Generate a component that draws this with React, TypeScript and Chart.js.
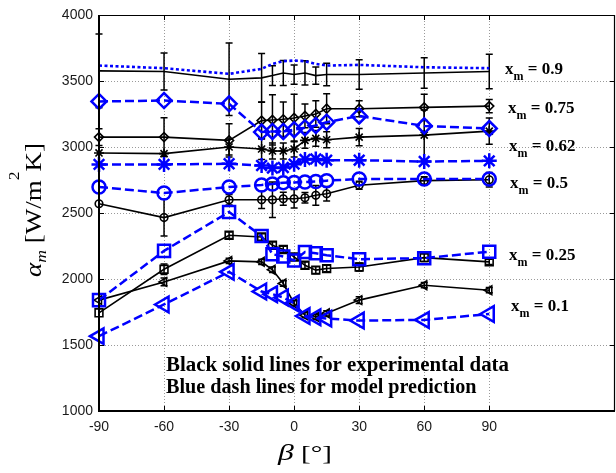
import React, { useEffect, useRef } from "react";
import { Chart, registerables } from "chart.js";

Chart.register(...registerables);

// ---------- data ----------
const beta = [-90, -60, -30, -15, -10, -5, 0, 5, 10, 15, 30, 60, 90];
const xTicks = [-90, -60, -30, 0, 30, 60, 90];
const yTicks = [1000, 1500, 2000, 2500, 3000, 3500, 4000];

// experimental (black solid) and error half-widths
const exp09 = [3577, 3572, 3513, 3524, 3541, 3561, 3549, 3561, 3541, 3549, 3549, 3561, 3572];
const err09 = [280, 140, 275, 185, 75, 95, 73, 92, 65, 85, 112, 115, 130];
const exp075 = [3075, 3075, 3050, 3200, 3205, 3210, 3220, 3235, 3250, 3290, 3290, 3300, 3310];
const err075 = [63, 147, 126, 140, 190, 130, 180, 90, 100, 113, 60, 100, 50];
const exp062 = [2955, 2950, 3000, 2985, 2970, 2970, 2985, 3050, 3065, 3055, 3075, 3090, 3120];
const err062 = [0, 0, 60, 80, 60, 60, 60, 60, 60, 60, 65, 190, 100];
const exp05 = [2570, 2465, 2600, 2600, 2600, 2608, 2608, 2615, 2634, 2646, 2710, 2745, 2752];
const err05 = [0, 140, 40, 65, 135, 50, 70, 40, 75, 55, 30, 30, 55];
const exp025 = [1744, 2074, 2331, 2318, 2256, 2223, 2167, 2104, 2067, 2079, 2091, 2162, 2130];
const err025 = [0, 40, 25, 25, 25, 25, 25, 25, 25, 25, 30, 30, 20];
const exp01 = [1840, 1978, 2137, 2130, 2070, 1966, 1815, 1726, 1713, 1740, 1840, 1953, 1915];
const err01 = [0, 30, 20, 20, 20, 20, 20, 20, 20, 20, 25, 20, 20];

// model prediction (blue dashed)
const mod09 = [3617, 3597, 3554, 3592, 3630, 3650, 3655, 3650, 3630, 3617, 3622, 3604, 3597];
const mod075 = [3345, 3352, 3327, 3113, 3118, 3118, 3131, 3146, 3163, 3188, 3235, 3160, 3140];
const mod062 = [2868, 2868, 2873, 2860, 2840, 2845, 2870, 2905, 2910, 2900, 2900, 2890, 2895];
const mod05 = [2697, 2651, 2697, 2712, 2720, 2730, 2732, 2735, 2738, 2745, 2758, 2758, 2758];
const mod025 = [1840, 2213, 2508, 2325, 2188, 2170, 2140, 2205, 2195, 2180, 2150, 2158, 2207];
const mod01 = [1567, 1807, 2054, 1905, 1885, 1860, 1815, 1720, 1710, 1700, 1685, 1690, 1735];

const xmLabels = ["0.9", "0.75", "0.62", "0.5", "0.25", "0.1"];
const noteLines = ["Black solid lines for experimental data", "Blue dash lines for model prediction"];

// ---------- helpers ----------
const BLACK = "#000000";
const BLUE = "#0000ff";
const SERIF = "'Liberation Serif', 'Times New Roman', serif";
const SANS = "'Liberation Sans', Arial, sans-serif";

type Run = { t: string; font: string; dy?: number };

function drawRuns(
  ctx: CanvasRenderingContext2D,
  runs: Run[],
  x: number,
  y: number,
  opts: { angle?: number; align?: "left" | "center"; target?: number } = {}
) {
  ctx.save();
  ctx.translate(x, y);
  if (opts.angle) ctx.rotate(opts.angle);
  const widths = runs.map((r) => {
    ctx.font = r.font;
    return ctx.measureText(r.t).width;
  });
  const total = widths.reduce((a, b) => a + b, 0);
  const sx = opts.target ? opts.target / total : 1;
  ctx.scale(sx, 1);
  let cx = opts.align === "center" ? -total / 2 : 0;
  ctx.textAlign = "left";
  ctx.textBaseline = "alphabetic";
  ctx.fillStyle = "#000";
  runs.forEach((r, i) => {
    ctx.font = r.font;
    ctx.fillText(r.t, cx, r.dy || 0);
    cx += widths[i];
  });
  ctx.restore();
}

const expSets = [
  { v: exp09, e: err09 },
  { v: exp075, e: err075 },
  { v: exp062, e: err062 },
  { v: exp05, e: err05 },
  { v: exp025, e: err025 },
  { v: exp01, e: err01 },
];

const customPlugin = {
  id: "matlabStyle",
  beforeDatasetsDraw(chart: any) {
    const { ctx, chartArea: a, scales } = chart;
    const xs = scales.x;
    const ys = scales.y;
    ctx.save();
    // dotted grid
    ctx.strokeStyle = "#9a9a9a";
    ctx.lineWidth = 1;
    ctx.setLineDash([1, 2]);
    xTicks.forEach((v) => {
      const px = Math.round(xs.getPixelForValue(v)) + 0.5;
      ctx.beginPath();
      ctx.moveTo(px, a.top);
      ctx.lineTo(px, a.bottom);
      ctx.stroke();
    });
    yTicks.forEach((v) => {
      const py = Math.round(ys.getPixelForValue(v)) + 0.5;
      ctx.beginPath();
      ctx.moveTo(a.left, py);
      ctx.lineTo(a.right, py);
      ctx.stroke();
    });
    ctx.setLineDash([]);
    // error bars
    ctx.strokeStyle = BLACK;
    ctx.lineWidth = 1.5;
    expSets.forEach(({ v, e }) => {
      v.forEach((val, i) => {
        const err = e[i];
        if (!err) return;
        const px = xs.getPixelForValue(beta[i]);
        const t = ys.getPixelForValue(val + err);
        const b = ys.getPixelForValue(val - err);
        ctx.beginPath();
        ctx.moveTo(px, t);
        ctx.lineTo(px, b);
        ctx.moveTo(px - 3.5, t);
        ctx.lineTo(px + 3.5, t);
        ctx.moveTo(px - 3.5, b);
        ctx.lineTo(px + 3.5, b);
        ctx.stroke();
      });
    });
    ctx.restore();
  },
  afterDatasetsDraw(chart: any) {
    const { ctx, chartArea: a, scales } = chart;
    const xs = scales.x;
    const ys = scales.y;
    ctx.save();
    // axes box
    ctx.strokeStyle = "#000";
    ctx.lineWidth = 2;
    ctx.beginPath();
    ctx.moveTo(a.left, a.top);
    ctx.lineTo(a.left, a.bottom);
    ctx.lineTo(a.right, a.bottom);
    ctx.stroke();
    ctx.lineWidth = 1.2;
    ctx.beginPath();
    ctx.moveTo(a.left, a.top + 0.5);
    ctx.lineTo(a.right, a.top + 0.5);
    ctx.moveTo(a.right - 0.5, a.top);
    ctx.lineTo(a.right - 0.5, a.bottom);
    ctx.stroke();
    // inward ticks
    ctx.lineWidth = 1;
    xTicks.forEach((v) => {
      const px = Math.round(xs.getPixelForValue(v)) + 0.5;
      ctx.beginPath();
      ctx.moveTo(px, a.bottom);
      ctx.lineTo(px, a.bottom - 5);
      ctx.moveTo(px, a.top);
      ctx.lineTo(px, a.top + 5);
      ctx.stroke();
    });
    yTicks.forEach((v) => {
      const py = Math.round(ys.getPixelForValue(v)) + 0.5;
      ctx.beginPath();
      ctx.moveTo(a.left, py);
      ctx.lineTo(a.left + 5, py);
      ctx.moveTo(a.right, py);
      ctx.lineTo(a.right - 5, py);
      ctx.stroke();
    });
    ctx.restore();

    // x_m labels
    const labelPos = [
      [505, 74],
      [508, 113],
      [509, 150.5],
      [510, 188],
      [509, 260],
      [511, 311],
    ];
    xmLabels.forEach((lab, i) => {
      const [lx, ly] = labelPos[i];
      drawRuns(
        ctx,
        [
          { t: "x", font: `bold 17px ${SERIF}` },
          { t: "m", font: `bold 12px ${SERIF}`, dy: 6 },
          { t: " = " + lab, font: `bold 17px ${SERIF}` },
        ],
        lx,
        ly
      );
    });

    // note text
    drawRuns(ctx, [{ t: noteLines[0], font: `bold 20.5px ${SERIF}` }], 166, 370.5, { target: 343 });
    drawRuns(ctx, [{ t: noteLines[1], font: `bold 20.5px ${SERIF}` }], 166, 393, {
      target: 343 * 0.905,
    });

    // axis titles
    drawRuns(
      ctx,
      [
        { t: "\u03b2", font: `italic 24px ${SERIF}` },
        { t: " [\u00b0]", font: `22px ${SERIF}` },
      ],
      305,
      460,
      { align: "center", target: 54 }
    );
    drawRuns(
      ctx,
      [
        { t: "\u03b1", font: `italic 23px ${SERIF}` },
        { t: "m", font: `italic 15px ${SERIF}`, dy: 5 },
        { t: " [W/m", font: `23px ${SERIF}` },
        { t: "2", font: `15px ${SERIF}`, dy: -22 },
        { t: "K]", font: `23px ${SERIF}` },
      ],
      41,
      210,
      { align: "center", angle: -Math.PI / 2, target: 134 }
    );
  },
};

function mk(
  vals: number[],
  color: string,
  style: string,
  radius: number,
  width: number,
  dash: number[],
  order: number,
  rotation = 0
) {
  return {
    data: beta.map((b, i) => ({ x: b, y: vals[i] })),
    borderColor: color,
    borderWidth: width,
    borderDash: dash,
    pointStyle: style,
    pointRadius: radius,
    pointHoverRadius: radius,
    pointRotation: rotation,
    pointBorderColor: color,
    pointBackgroundColor: "rgba(0,0,0,0)",
    pointBorderWidth: width,
    fill: false,
    tension: 0,
    order,
    clip: false,
  };
}

export default function App() {
  const ref = useRef<HTMLCanvasElement | null>(null);
  useEffect(() => {
    if (!ref.current) return;
    const datasets = [
      // blue model lines (drawn on top)
      mk(mod09, BLUE, "circle", 0, 2.6, [3, 2.5], 0),
      mk(mod075, BLUE, "rectRot", 7.5, 2.5, [9, 4], 0),
      mk(mod062, BLUE, "star", 7.5, 2.5, [9, 4], 0),
      mk(mod05, BLUE, "circle", 6.5, 2.5, [9, 4], 0),
      mk(mod025, BLUE, "rect", 8.5, 2.5, [9, 4], 0),
      mk(mod01, BLUE, "triangle", 9, 2.5, [9, 4], 0, -90),
      // black experimental
      mk(exp09, BLACK, "circle", 0, 1.6, [], 1),
      mk(exp075, BLACK, "rectRot", 4.5, 1.6, [], 1),
      mk(exp062, BLACK, "star", 5, 1.6, [], 1),
      mk(exp05, BLACK, "circle", 3.8, 1.6, [], 1),
      mk(exp025, BLACK, "rect", 5.5, 1.6, [], 1),
      mk(exp01, BLACK, "triangle", 5, 1.6, [], 1, -90),
    ];
    const chart = new Chart(ref.current, {
      type: "line",
      data: { datasets } as any,
      options: {
        responsive: false,
        animation: false,
        devicePixelRatio: 1,
        layout: { autoPadding: false, padding: { top: 15, right: 1, left: 0, bottom: 0 } },
        plugins: { legend: { display: false }, tooltip: { enabled: false }, title: { display: false } },
        scales: {
          x: {
            type: "linear",
            min: -90,
            max: 148,
            afterBuildTicks: (s: any) => {
              s.ticks = xTicks.map((v) => ({ value: v }));
            },
            afterFit: (s: any) => {
              s.height = 62;
              s.paddingLeft = 0;
              s.paddingRight = 0;
            },
            grid: { display: false, drawTicks: false },
            border: { display: false },
            ticks: {
              padding: 8,
              autoSkip: false,
              maxRotation: 0,
              color: "#1a1a1a",
              font: { family: SANS, size: 14 },
              callback: (v: any) => String(v),
            },
          },
          y: {
            type: "linear",
            min: 1000,
            max: 4000,
            afterBuildTicks: (s: any) => {
              s.ticks = yTicks.map((v) => ({ value: v }));
            },
            afterFit: (s: any) => {
              s.width = 99;
              s.paddingTop = 0;
              s.paddingBottom = 0;
            },
            grid: { display: false, drawTicks: false },
            border: { display: false },
            ticks: {
              padding: 6,
              color: "#1a1a1a",
              font: { family: SANS, size: 14 },
              callback: (v: any) => String(v),
            },
          },
        },
      } as any,
      plugins: [customPlugin],
    });
    return () => chart.destroy();
  }, []);
  return (
    <div style={{ position: "absolute", left: 0, top: 0, width: 616, height: 473, background: "#fff" }}>
      <canvas ref={ref} width={616} height={473} style={{ display: "block", width: 616, height: 473 }} />
    </div>
  );
}
